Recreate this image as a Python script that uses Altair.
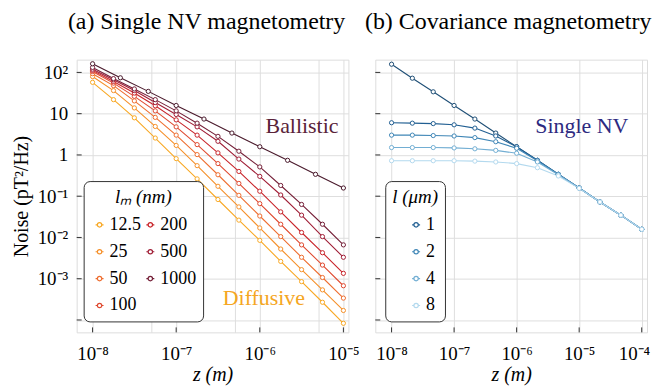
import altair as alt
import pandas as pd

# ---------------- data ----------------
# panel (a): positions along z (m)
z_quarter_decades = [1.0e-8, 1.78e-8, 3.16e-8, 5.62e-8, 1.0e-7, 1.78e-7, 3.16e-7,
                     5.62e-7, 1.0e-6, 1.78e-6, 3.16e-6, 5.62e-6, 1.0e-5]
z_third_decades_a = [1.0e-8, 2.15e-8, 4.64e-8, 1.0e-7, 2.15e-7, 4.64e-7, 1.0e-6,
                     2.15e-6, 4.64e-6, 1.0e-5]

# ballistic limit (unlabelled top curve), pT^2/Hz
noise_ballistic = [162, 74.1, 34.7, 15.8, 7.41, 3.39, 1.58, 0.741, 0.339, 0.158]

lm_nm = ["12.5", "25", "50", "100", "200", "500", "1000"]
noise_lm_12_5 = [57.5, 21.9, 7.94, 2.57, 0.813, 0.263, 0.0832, 0.0263, 0.00851,
                 0.00263, 0.000851, 0.000269, 0.0000832]
noise_lm_25 = [79.4, 36.3, 13.8, 4.90, 1.70, 0.550, 0.174, 0.0550, 0.0170,
               0.00525, 0.00166, 0.000537, 0.000170]
noise_lm_50 = [93.3, 47.9, 20.4, 8.13, 3.02, 1.02, 0.331, 0.105, 0.0331,
               0.0105, 0.00331, 0.00107, 0.000339]
noise_lm_100 = [105, 55.0, 26.3, 11.7, 4.79, 1.78, 0.617, 0.204, 0.0661,
                0.0209, 0.00661, 0.00214, 0.000676]
noise_lm_200 = [112, 60.3, 31.6, 15.5, 7.08, 3.02, 1.12, 0.398, 0.132,
                0.0417, 0.0132, 0.00427, 0.00135]
noise_lm_500 = [120, 66.1, 36.3, 18.6, 9.55, 4.79, 2.14, 0.794, 0.302,
                0.107, 0.0347, 0.0105, 0.00331]
noise_lm_1000 = [132, 70.8, 39.8, 21.9, 11.7, 5.89, 2.82, 1.23, 0.513,
                 0.182, 0.0631, 0.0209, 0.00661]

# panel (b)
z_third_decades_b = [1.0e-8, 2.15e-8, 4.64e-8, 1.0e-7, 2.15e-7, 4.64e-7, 1.0e-6,
                     2.15e-6, 4.64e-6, 1.0e-5, 2.15e-5, 4.64e-5, 1.0e-4]
noise_single_nv = [158, 72.4, 33.9, 15.8, 7.41, 3.39, 1.58, 0.741, 0.339,
                   0.158, 0.0724, 0.0347, 0.0158]
l_um = ["1", "2", "4", "8"]
noise_l_1 = [6.03, 5.89, 5.75, 5.37, 4.47, 2.88, 1.58, 0.741, 0.339,
             0.158, 0.0724, 0.0347, 0.0158]
noise_l_2 = [3.02, 3.02, 2.95, 2.88, 2.63, 2.09, 1.45, 0.724, 0.339,
             0.158, 0.0724, 0.0347, 0.0158]
noise_l_4 = [1.51, 1.51, 1.51, 1.48, 1.41, 1.29, 1.10, 0.676, 0.331,
             0.158, 0.0724, 0.0347, 0.0158]
noise_l_8 = [0.724, 0.724, 0.724, 0.724, 0.708, 0.676, 0.617, 0.490, 0.309,
             0.155, 0.0724, 0.0347, 0.0158]

# axis ticks and labels
x_ticks_a = [1e-8, 5e-8, 1e-7, 5e-7, 1e-6, 5e-6, 1e-5]
x_ticks_b = [1e-8, 1e-7, 1e-6, 1e-5, 1e-4]
y_ticks = [1e2, 1e1, 1, 1e-1, 1e-2, 1e-3, 1e-4]
x_tick_labels = {-8: "10⁻⁸", -7: "10⁻⁷", -6: "10⁻⁶", -5: "10⁻⁵", -4: "10⁻⁴"}
y_tick_labels = {2: "10²", 1: "10", 0: "1", -1: "10⁻¹", -2: "10⁻²", -3: "10⁻³"}

# ---------------- styling ----------------
FONT = "Liberation Serif"
lm_colors = {"12.5": "#f8a824", "25": "#f5902a", "50": "#ee6e30", "100": "#df4a30",
             "200": "#c8252b", "500": "#a01e36", "1000": "#752038"}
ballistic_color = "#4a1a2c"
l_colors = {"1": "#215f92", "2": "#3f86b6", "4": "#72aed3", "8": "#b3d9ee"}
nv_color = "#1f4f76"

W, H = 273, 274
SYMBOL = ("M-1,0L-0.55,0M0.55,0L1,0M-0.55,0A0.55,0.55 0 1 1 0.55,0"
          "A0.55,0.55 0 1 1 -0.55,0Z")


def label_expr(mapping):
    e = "round(log(datum.value)/LN10)"
    s = f"abs(log(datum.value)/LN10 - {e}) > 0.01 ? '' : "
    for k, lab in mapping.items():
        s += f"{e} == {k} ? '{lab}' : "
    return s + "''"


xs_a = alt.Scale(type="log", domain=[6.457e-9, 1.148e-5], nice=False)
xs_b = alt.Scale(type="log", domain=[5.495e-9, 1.216e-4], nice=False)
ys = alt.Scale(type="log", domain=[5.01e-5, 204], nice=False)

common_axis = dict(labelFont=FONT, titleFont=FONT, labelFontSize=19, titleFontSize=20,
                   titleFontWeight="normal", labelColor="black", titleColor="black",
                   ticks=False, domain=False, grid=True, gridColor="#dedede",
                   gridWidth=1, labelOverlap=False)

xax_a = alt.Axis(values=x_ticks_a, labelExpr=label_expr(x_tick_labels), title="z (m)",
                 titleFontStyle="italic", labelPadding=12, titlePadding=1, **common_axis)
xax_b = alt.Axis(values=x_ticks_b, labelExpr=label_expr(x_tick_labels), title="z (m)",
                 titleFontStyle="italic", labelPadding=12, titlePadding=1,
                 labelFlush=8, labelFlushOffset=8, **common_axis)
yax_a = alt.Axis(values=y_ticks, labelExpr=label_expr(y_tick_labels),
                 title="Noise (pT²/Hz)", labelPadding=9, titlePadding=6, **common_axis)
yax_b = alt.Axis(values=y_ticks, labels=False, title=None, **common_axis)

# ---------------- tables ----------------
rows = []
series_a = [noise_lm_12_5, noise_lm_25, noise_lm_50, noise_lm_100,
            noise_lm_200, noise_lm_500, noise_lm_1000]
for lab, vals in zip(lm_nm, series_a):
    for z, n in zip(z_quarter_decades, vals):
        rows.append({"z": z, "n": n, "lm": lab})
df_a = pd.DataFrame(rows)
df_ball = pd.DataFrame({"z": z_third_decades_a, "n": noise_ballistic})

rows = []
for lab, vals in zip(l_um, [noise_l_1, noise_l_2, noise_l_4, noise_l_8]):
    for z, n in zip(z_third_decades_b, vals):
        rows.append({"z": z, "n": n, "l": lab})
df_b = pd.DataFrame(rows)
df_nv = pd.DataFrame({"z": z_third_decades_b, "n": noise_single_nv})


def tick_layers(xs, xticks, xax, yax):
    tx = alt.Chart(pd.DataFrame({"z": xticks})).mark_rule(color="#333", strokeWidth=1).encode(
        x=alt.X("z:Q", scale=xs, axis=xax), y=alt.value(H), y2=alt.value(H - 5))
    ty = alt.Chart(pd.DataFrame({"n": y_ticks})).mark_rule(color="#333", strokeWidth=1).encode(
        y=alt.Y("n:Q", scale=ys, axis=yax), x=alt.value(0), x2=alt.value(5))
    return [tx, ty]


legend_common = dict(orient="none", symbolType=SYMBOL, symbolSize=64, symbolStrokeWidth=1.2,
                     symbolFillColor="white", labelFont=FONT, titleFont=FONT,
                     labelFontSize=18, titleFontSize=19, titleFontWeight="normal",
                     titleFontStyle="italic", labelColor="black", titleColor="black",
                     titleAnchor="middle", strokeColor="#333", fillColor="white",
                     cornerRadius=6, padding=7, rowPadding=9, labelOffset=1, titlePadding=9)

# ---------------- panel (a) ----------------
color_a = alt.Color(
    "lm:N",
    scale=alt.Scale(domain=lm_nm, range=[lm_colors[k] for k in lm_nm]),
    sort=lm_nm,
    legend=alt.Legend(title="lₘ (nm)", legendX=7, legendY=122, columns=2,
                      columnPadding=-15, **legend_common),
)
enc_a = dict(x=alt.X("z:Q", scale=xs_a, axis=xax_a), y=alt.Y("n:Q", scale=ys, axis=yax_a))

lines_a = alt.Chart(df_a).mark_line(strokeWidth=1.1).encode(color=color_a, detail="lm:N", **enc_a)
pts_a = alt.Chart(df_a).mark_point(shape="circle", filled=False, fill="white", size=18,
                                   strokeWidth=1, opacity=1).encode(color=color_a, **enc_a)
ball_line = alt.Chart(df_ball).mark_line(strokeWidth=1.1, color=ballistic_color).encode(**enc_a)
ball_pts = alt.Chart(df_ball).mark_point(shape="circle", filled=False, fill="white", size=18,
                                         strokeWidth=1, opacity=1,
                                         color=ballistic_color).encode(**enc_a)
ann_a = alt.Chart(pd.DataFrame({"z": [3.2e-6, 1.12e-6], "n": [5.0, 3.5e-4],
                                "t": ["Ballistic", "Diffusive"],
                                "c": ["#5a2339", "#f5a623"]})).mark_text(
    font=FONT, fontSize=22, baseline="middle", align="center").encode(
    text="t:N", color=alt.Color("c:N", scale=None), **enc_a)

title_common = dict(font=FONT, fontSize=24, fontWeight="normal", color="black",
                    anchor="middle", frame="group", offset=18, dy=-8)

panel_a = alt.layer(*tick_layers(xs_a, [1e-8, 1e-7, 1e-6, 1e-5], xax_a, yax_a),
                    lines_a, ball_line, pts_a, ball_pts, ann_a).properties(
    width=W, height=H,
    title=alt.TitleParams("(a) Single NV magnetometry", dx=-6, **title_common))

# ---------------- panel (b) ----------------
color_b = alt.Color(
    "l:N",
    scale=alt.Scale(domain=l_um, range=[l_colors[k] for k in l_um]),
    legend=alt.Legend(title="l (μm)", legendX=10, legendY=122, symbolOffset=12,
                      **legend_common),
)
enc_b = dict(x=alt.X("z:Q", scale=xs_b, axis=xax_b), y=alt.Y("n:Q", scale=ys, axis=yax_b))

nv_line = alt.Chart(df_nv).mark_line(strokeWidth=1.1, color=nv_color).encode(**enc_b)
nv_pts = alt.Chart(df_nv).mark_point(shape="circle", filled=False, fill="white", size=18,
                                     strokeWidth=1, opacity=1, color=nv_color).encode(**enc_b)
lines_b = alt.Chart(df_b).mark_line(strokeWidth=1.1).encode(color=color_b, detail="l:N", **enc_b)
pts_b = alt.Chart(df_b).mark_point(shape="circle", filled=False, fill="white", size=18,
                                   strokeWidth=1, opacity=1).encode(color=color_b, **enc_b)
ann_b = alt.Chart(pd.DataFrame({"z": [1.1e-5], "n": [5.0], "t": ["Single NV"]})).mark_text(
    font=FONT, fontSize=22, baseline="middle", align="center", color="#2d2a7f").encode(
    text="t:N", **enc_b)

panel_b = alt.layer(*tick_layers(xs_b, x_ticks_b, xax_b, yax_b),
                    nv_line, lines_b, nv_pts, pts_b, ann_b).properties(
    width=W, height=H,
    title=alt.TitleParams("(b) Covariance magnetometry", dx=-3, **title_common))

chart = alt.hconcat(panel_a, panel_b, spacing=27, bounds="flush").resolve_scale(
    color="independent").resolve_legend(color="independent").properties(
    padding={"left": 2, "top": 0, "right": 0, "bottom": 0}).configure_view(
    stroke="#333", strokeWidth=1.2).configure(background="white")

chart.save("out.html", embed_options={"renderer": "svg", "actions": False})
